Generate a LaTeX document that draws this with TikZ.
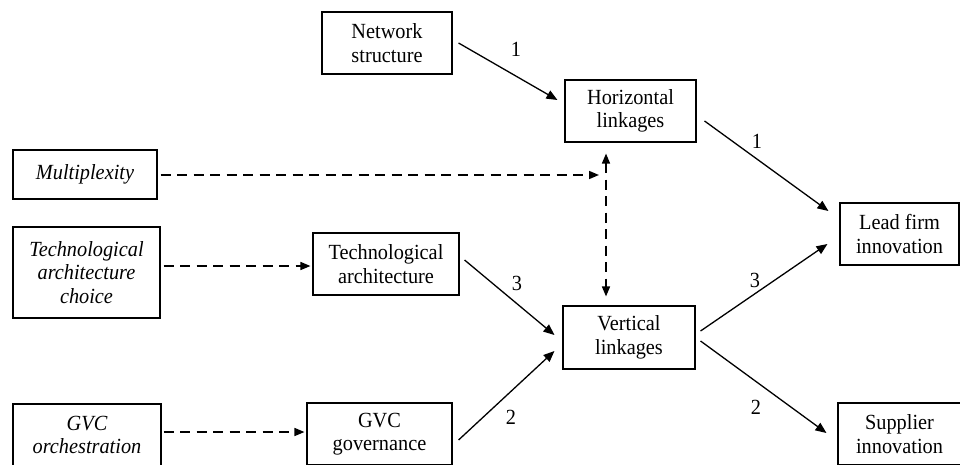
\documentclass[tikz,border=0pt]{standalone}
\usepackage{fontspec}
\setmainfont[FakeStretch=0.94]{Liberation Serif}
\usetikzlibrary{arrows.meta,calc}
\begin{document}
\begin{tikzpicture}[x=1pt,y=-1pt,
  box/.style={draw,line width=1.1pt,rectangle,inner sep=0pt,align=center,
    font=\fontsize{21.6}{23.5}\selectfont},
  lbl/.style={inner sep=0pt,font=\fontsize{21.6}{23.5}\selectfont},
  solidarr/.style={line width=1.3pt,-{Triangle[length=11pt,width=9pt]}},
  dasharr/.style={line width=1.5pt,dash pattern=on 10pt off 6.5pt,-{Triangle[length=10pt,width=8pt]}},
  dashboth/.style={line width=1.5pt,dash pattern=on 10pt off 6.5pt,{Triangle[length=10pt,width=8pt]}-{Triangle[length=10pt,width=8pt]}}
]
\useasboundingbox (0,0) rectangle (960,464);
% nodes
\node[box,minimum width=130pt,minimum height=62pt] (net) at (387,43) {Network\\structure};
\node[box,minimum width=131pt,minimum height=62pt] (hor) at (630.5,111) {Horizontal\\linkages};
\node[box,minimum width=144pt,minimum height=49pt] (mult) at (85,174.5) {\itshape Multiplexity};
\node[box,minimum width=147pt,minimum height=91pt] (tac) at (86.5,272.5) {\itshape Technological\\\itshape architecture\\\itshape choice};
\node[box,minimum width=146pt,minimum height=62pt] (ta) at (386,264) {Technological\\architecture};
\node[box,minimum width=132pt,minimum height=63pt] (vert) at (629,337.5) {Vertical\\linkages};
\node[box,minimum width=119pt,minimum height=62pt] (lead) at (899.5,234) {Lead firm\\innovation};
\node[box,minimum width=148pt,minimum height=62pt] (gvco) at (87,435) {\itshape GVC\\\itshape orchestration};
\node[box,minimum width=145pt,minimum height=62pt] (gvg) at (379.5,434) {GVC\\governance};
\node[box,minimum width=130pt,minimum height=62pt] (sup) at (903,434) {\hspace*{-7pt}Supplier\\\hspace*{-7pt}innovation};
\coordinate (mend) at (599,175);
% connectors
\draw[solidarr] ($(net.east)+(6,0)$) -- ($(hor.west)+(-7,-11)$);
\draw[solidarr] ($(hor.east)+(8,10)$) -- ($(lead.west)+(-11,-23)$);
\draw[dasharr] ($(mult.east)+(3,0.5)$) -- (mend);
\draw[dashboth] ($(hor.south)+(-24.5,11)$) -- ($(vert.north)+(-23,-9)$);
\draw[dasharr] ($(tac.east)+(3,-6.5)$) -- ($(ta.west)+(-2,2)$);
\draw[solidarr] ($(ta.east)+(5,-4)$) -- ($(vert.west)+(-8,-2.5)$);
\draw[solidarr] ($(gvg.east)+(6,6)$) -- ($(vert.west)+(-8,13.5)$);
\draw[solidarr] ($(vert.east)+(5,-6.5)$) -- ($(lead.west)+(-12,10)$);
\draw[solidarr] ($(vert.east)+(5,3.5)$) -- ($(sup.west)+(-11,-1)$);
\draw[dasharr] ($(gvco.east)+(2,-3)$) -- ($(gvg.west)+(-2,-2)$);
% labels
\node[lbl] (l1) at (516,49) {1};
\node[lbl] (l2) at (757,141) {1};
\node[lbl] (l3) at (517,283) {3};
\node[lbl] (l4) at (511,417) {2};
\node[lbl] (l5) at (755,280) {3};
\node[lbl] (l6) at (756,407) {2};
\end{tikzpicture}
\end{document}
